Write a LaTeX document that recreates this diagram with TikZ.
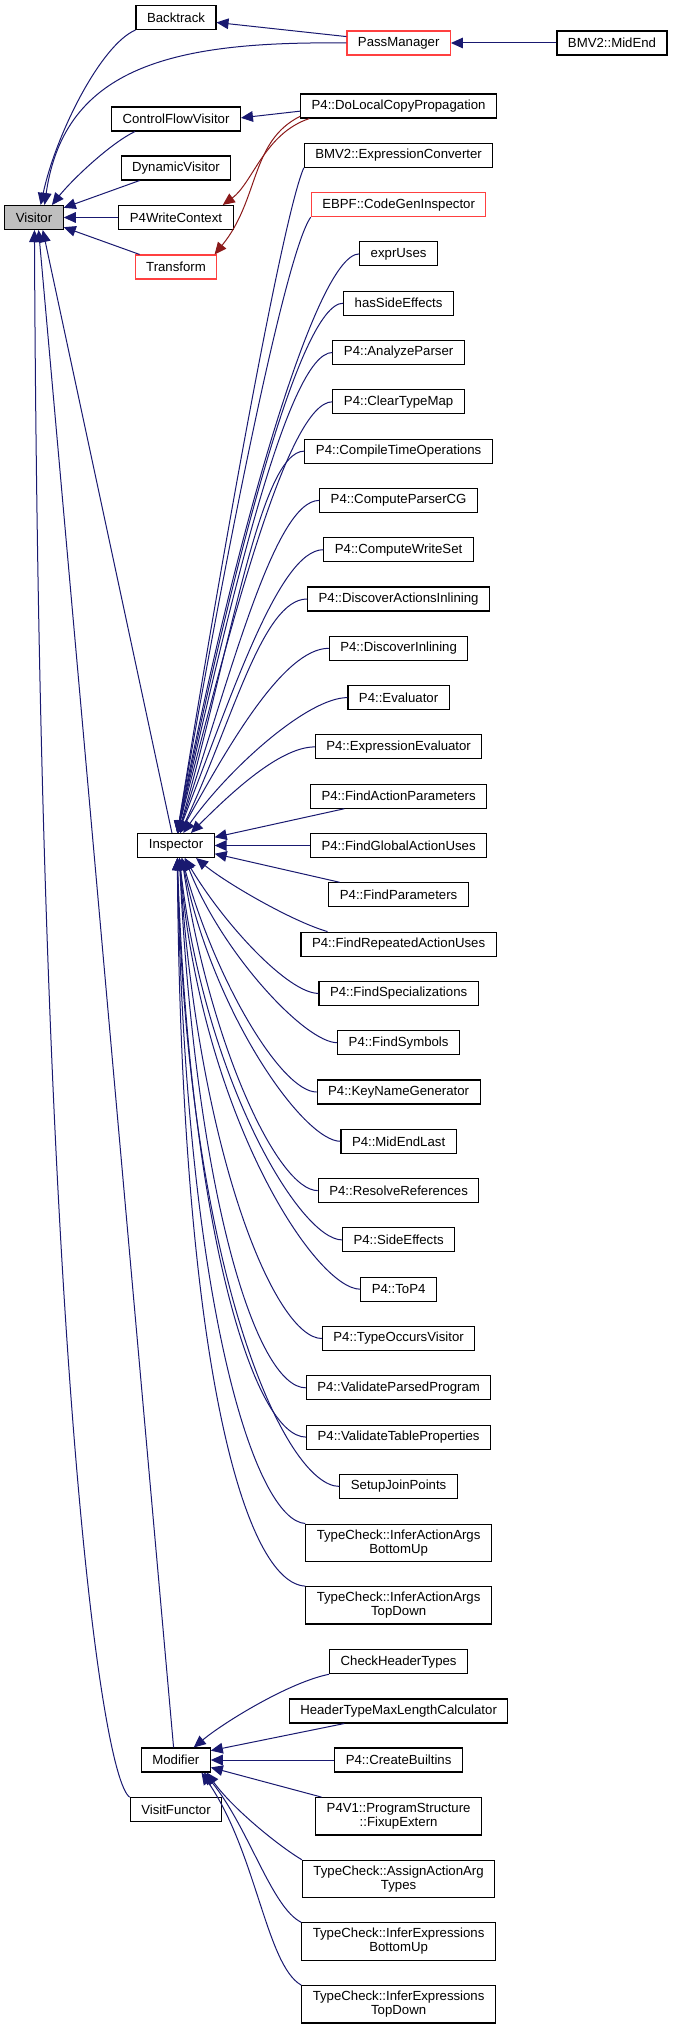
\documentclass[tikz,border=0pt]{standalone}
\usepackage{fontspec}
\setmainfont{Liberation Sans}
\usetikzlibrary{arrows.meta}
\definecolor{navyedge}{HTML}{191970}
\definecolor{rededge}{HTML}{8B1A1A}
\definecolor{redbox}{HTML}{FF4040}
\definecolor{visgray}{HTML}{BFBFBF}
\tikzset{
  box/.style={draw=black, line width=0.8pt, fill=white, font=\fontsize{9.9pt}{10.5pt}\selectfont,
    inner xsep=8.25pt, inner ysep=2pt, minimum height=18pt, align=center},
  dbox/.style={box, minimum height=28pt},
  redb/.style={draw=redbox},
  inh/.style={draw=navyedge, line width=0.75pt, -{Triangle[length=9pt,width=8pt]}},
  inhred/.style={draw=rededge, line width=0.75pt, -{Triangle[length=9pt,width=8pt]}},
}
\begin{document}
\begin{tikzpicture}[x=0.75pt, y=-0.75pt]
\path[use as bounding box, fill=white] (0,0) rectangle (672,2029);

% left column
\node[box, fill=visgray] (visitor) at (34,217.5) {Visitor};
\node[box] (backtrack) at (176,17.5) {Backtrack};
\node[box, redb] (passmgr) at (398.7,43) {PassManager};
\node[box] (midend) at (612,43) {BMV2::MidEnd};
\node[box] (cfv) at (176,119) {ControlFlowVisitor};
\node[box] (dynv) at (176,168) {DynamicVisitor};
\node[box] (p4wc) at (176,217.5) {P4WriteContext};
\node[box, redb] (transform) at (176,267) {Transform};
\node[box] (insp) at (176,845.5) {Inspector};
\node[box] (modif) at (175.8,1760) {Modifier};
\node[box] (visfun) at (176,1809.7) {VisitFunctor};

% right column
\node[box] (n0) at (398.6,106) {P4::DoLocalCopyPropagation};
\node[box] (n1) at (398.6,155.3) {BMV2::ExpressionConverter};
\node[box, redb] (n2) at (398.6,204.6) {EBPF::CodeGenInspector};
\node[box] (n3) at (398.6,253.9) {exprUses};
\node[box] (n4) at (398.6,303.2) {hasSideEffects};
\node[box] (n5) at (398.6,352.5) {P4::AnalyzeParser};
\node[box] (n6) at (398.6,401.8) {P4::ClearTypeMap};
\node[box] (n7) at (398.6,451.1) {P4::CompileTimeOperations};
\node[box] (n8) at (398.6,500.4) {P4::ComputeParserCG};
\node[box] (n9) at (398.6,549.7) {P4::ComputeWriteSet};
\node[box] (n10) at (398.6,599) {P4::DiscoverActionsInlining};
\node[box] (n11) at (398.6,648.3) {P4::DiscoverInlining};
\node[box] (n12) at (398.6,697.6) {P4::Evaluator};
\node[box] (n13) at (398.6,746.9) {P4::ExpressionEvaluator};
\node[box] (n14) at (398.6,796.2) {P4::FindActionParameters};
\node[box] (n15) at (398.6,845.5) {P4::FindGlobalActionUses};
\node[box] (n16) at (398.6,894.8) {P4::FindParameters};
\node[box] (n17) at (398.6,944.1) {P4::FindRepeatedActionUses};
\node[box] (n18) at (398.6,993.4) {P4::FindSpecializations};
\node[box] (n19) at (398.6,1042.7) {P4::FindSymbols};
\node[box] (n20) at (398.6,1092) {P4::KeyNameGenerator};
\node[box] (n21) at (398.6,1141.3) {P4::MidEndLast};
\node[box] (n22) at (398.6,1190.6) {P4::ResolveReferences};
\node[box] (n23) at (398.6,1239.9) {P4::SideEffects};
\node[box] (n24) at (398.6,1289.2) {P4::ToP4};
\node[box] (n25) at (398.6,1338.5) {P4::TypeOccursVisitor};
\node[box] (n26) at (398.6,1387.8) {P4::ValidateParsedProgram};
\node[box] (n27) at (398.6,1437.1) {P4::ValidateTableProperties};
\node[box] (n28) at (398.6,1486.4) {SetupJoinPoints};
\node[dbox] (n29) at (398.6,1542.7) {TypeCheck::InferActionArgs\\BottomUp};
\node[dbox] (n30) at (398.6,1605.3) {TypeCheck::InferActionArgs\\TopDown};
\node[box] (n31) at (398.6,1661.7) {CheckHeaderTypes};
\node[box] (n32) at (398.6,1711) {HeaderTypeMaxLengthCalculator};
\node[box] (n33) at (398.6,1760) {P4::CreateBuiltins};
\node[dbox] (n34) at (398.6,1816.3) {P4V1::ProgramStructure\\::FixupExtern};
\node[dbox] (n35) at (398.6,1879) {TypeCheck::AssignActionArg\\Types};
\node[dbox] (n36) at (398.6,1941.5) {TypeCheck::InferExpressions\\BottomUp};
\node[dbox] (n37) at (398.6,2004.3) {TypeCheck::InferExpressions\\TopDown};

% top-left edges
\draw[inh] (midend.west) -- (passmgr.east);
\draw[inh] (passmgr.173) -- (backtrack.-7.8);
\draw[inh] (backtrack.south west) .. controls +(-35,15) and +(15,-70) .. (visitor.62);
\draw[inh] (passmgr.west) .. controls +(-170,-2) and +(20,-140) .. (visitor.50);
\draw[inh] (cfv.-163) .. controls +(-25,12) and +(20,-25) .. (visitor.35);
\draw[inh] (dynv.-161.6) -- (visitor.18);
\draw[inh] (p4wc.west) -- (visitor.east);
\draw[inh] (transform.161.6) -- (visitor.-18);
\draw[inh] (n0.183.3) -- (cfv.1.8);
\draw[inhred] (n0.-172) .. controls +(-45,15) and +(30,-22) .. (p4wc.15.3);
\draw[inhred] (n0.-174) .. controls +(-50,25) and +(45,-55) .. (transform.18);

% Visitor bottom edges
\draw[inh] (insp.108) -- (visitor.-55);
\draw[inh] (modif.100) -- (visitor.-70);
\draw[inh] (visfun.north west) .. controls +(-30,-20) and +(5,1100) .. (visitor.-88);

% Inspector children (upper)
\draw[inh] (n1.south west) .. controls +(-20,45) and +(48,-300) .. (insp.84);
\draw[inh] (n2.south west) .. controls +(-25,35) and +(50,-290) .. (insp.84);
\draw[inh] (n3.west) .. controls +(-45,0) and +(52,-272) .. (insp.84);
\draw[inh] (n4.west) .. controls +(-45,0) and +(52,-249) .. (insp.84);
\draw[inh] (n5.west) .. controls +(-45,0) and +(52,-226) .. (insp.84);
\draw[inh] (n6.west) .. controls +(-45,0) and +(52,-203) .. (insp.84);
\draw[inh] (n7.west) .. controls +(-45,0) and +(52,-180) .. (insp.80);
\draw[inh] (n8.west) .. controls +(-45,0) and +(52,-156) .. (insp.80);
\draw[inh] (n9.west) .. controls +(-45,0) and +(52,-133) .. (insp.80);
\draw[inh] (n10.west) .. controls +(-45,0) and +(52,-110) .. (insp.72);
\draw[inh] (n11.west) .. controls +(-45,0) and +(48,-87) .. (insp.72);
\draw[inh] (n12.west) .. controls +(-40,0) and +(45,-64) .. (insp.60);
\draw[inh] (n13.west) .. controls +(-35,0) and +(40,-40) .. (insp.40);
% middle
\draw[inh] (n14.-167.8) -- (insp.12);
\draw[inh] (n15.west) -- (insp.east);
\draw[inh] (n16.168) -- (insp.-12);
\draw[inh] (n17.170.7) .. controls +(-35,-10) and +(30,25) .. (insp.-32);
% lower
\draw[inh] (n18.west) .. controls +(-30,0) and +(40,67) .. (insp.-55);
\draw[inh] (n19.west) .. controls +(-32,0) and +(37,95) .. (insp.-55);
\draw[inh] (n20.west) .. controls +(-35,0) and +(34,124) .. (insp.-65);
\draw[inh] (n21.west) .. controls +(-37,0) and +(31,155) .. (insp.-65);
\draw[inh] (n22.west) .. controls +(-40,0) and +(28,187) .. (insp.-65);
\draw[inh] (n23.west) .. controls +(-42,0) and +(25,222) .. (insp.-75);
\draw[inh] (n24.west) .. controls +(-45,0) and +(22,257) .. (insp.-75);
\draw[inh] (n25.west) .. controls +(-47,0) and +(19,295) .. (insp.-75);
\draw[inh] (n26.west) .. controls +(-50,0) and +(16,334) .. (insp.-75);
\draw[inh] (n27.west) .. controls +(-52,0) and +(13,375) .. (insp.-84);
\draw[inh] (n28.west) .. controls +(-54,0) and +(10,417) .. (insp.-84);
\draw[inh] (n29.north west) .. controls +(-50,-3) and +(8,450) .. (insp.-84);
\draw[inh] (n30.north west) .. controls +(-60,-3) and +(4,510) .. (insp.-84);

% Modifier children
\draw[inh] (n31.south west) .. controls +(-40,8) and +(30,-25) .. (modif.35);
\draw[inh] (n32.-167.8) -- (modif.15);
\draw[inh] (n33.west) -- (modif.east);
\draw[inh] (n34.166.3) -- (modif.-12);
\draw[inh] (n35.north west) .. controls +(-25,-15) and +(25,35) .. (modif.-22);
\draw[inh] (n36.north west) .. controls +(-30,-15) and +(45,55) .. (modif.-24);
\draw[inh] (n37.north west) .. controls +(-35,-20) and +(55,80) .. (modif.-26);
\end{tikzpicture}
\end{document}
